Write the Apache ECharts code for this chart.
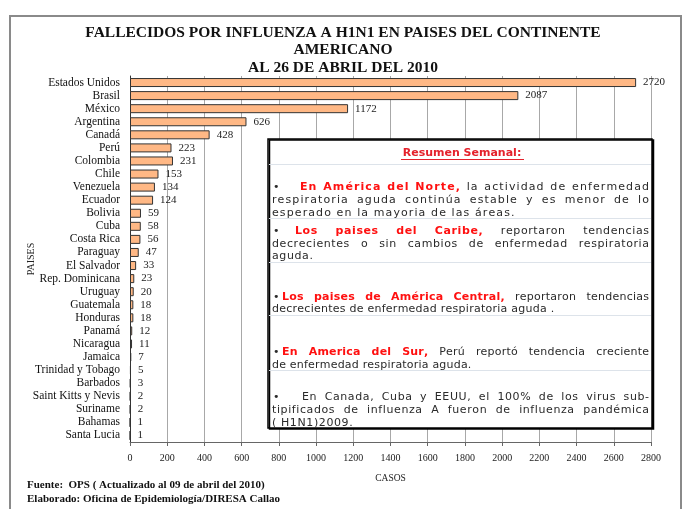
<!DOCTYPE html>
<html>
<head>
<meta charset="utf-8">
<script src="https://cdn.jsdelivr.net/npm/echarts@6/dist/echarts.min.js"></script>
<style>
  html, body { margin: 0; padding: 0; background: #fff; }
  #chart { width: 686px; height: 509px; }
</style>
</head>
<body>
<div id="chart"></div>
<script>
// datos del grafico
const paises = ['Estados Unidos', 'Brasil', 'México', 'Argentina', 'Canadá', 'Perú', 'Colombia', 'Chile',
  'Venezuela', 'Ecuador', 'Bolivia', 'Cuba', 'Costa Rica', 'Paraguay', 'El Salvador', 'Rep. Dominicana',
  'Uruguay', 'Guatemala', 'Honduras', 'Panamá', 'Nicaragua', 'Jamaica', 'Trinidad y Tobago', 'Barbados',
  'Saint Kitts y Nevis', 'Suriname', 'Bahamas', 'Santa Lucia'];
const fallecidos = [2720, 2087, 1172, 626, 428, 223, 231, 153, 134, 124, 59, 58, 56, 47, 33, 23,
  20, 18, 18, 12, 11, 7, 5, 3, 2, 2, 1, 1];

// texto del recuadro: [segmento, esRojo]; j = justificar, ind = sangria tras la viñeta, ls = espaciado
const resumen = [
  { y: 187, j: true, ind: 28, ls: 1.1, s: [['En América del Norte,', 1], ['la actividad de enfermedad', 0]] },
  { y: 200, j: true, ls: 1.1, s: [['respiratoria aguda continúa estable y es menor de lo', 0]] },
  { y: 213, j: false, ls: 1.1, s: [['esperado en la mayoria de las áreas.', 0]] },
  { y: 231, j: true, ind: 23, ls: 0.6, s: [['Los paises del Caribe,', 1], ['reportaron tendencias', 0]] },
  { y: 244, j: true, ls: 0.6, s: [['decrecientes  o sin cambios de enfermedad respiratoria', 0]] },
  { y: 256, j: false, ls: 0.6, s: [['aguda.', 0]] },
  { y: 297, j: true, ind: 10, ls: 0.25, s: [['Los paises de América Central,', 1], ['reportaron tendencias', 0]] },
  { y: 309, j: false, ls: 0.25, s: [['decrecientes de enfermedad respiratoria aguda .', 0]] },
  { y: 352, j: true, ind: 10, ls: 0.2, s: [['En America del Sur,', 1], ['Perú reportó tendencia creciente', 0]] },
  { y: 365, j: false, ls: 0.2, s: [['de enfermedad respiratoria aguda.', 0]] },
  { y: 397, j: true, ind: 30, ls: 0.6, s: [['En Canada, Cuba y EEUU, el 100% de los virus sub-', 0]] },
  { y: 410, j: true, ls: 0.6, s: [['tipificados de influenza A fueron de influenza pandémica', 0]] },
  { y: 423, j: false, ls: 0.6, s: [['( H1N1)2009.', 0]] }
];
const separadores = [164, 218, 262, 315, 370];

const serif = '"Liberation Serif", "DejaVu Serif", serif';
const sans = '"DejaVu Sans", sans-serif';
const box = { x: 268, y: 139, w: 384, h: 289 };

function textoResumen() {
  const ctx = document.createElement('canvas').getContext('2d');
  const size = 11;
  const font = (b) => (b ? 'bold ' : '') + size + 'px ' + sans;
  const x0 = box.x + 4, x1 = box.x + box.w - 3;
  const out = [];
  const put = (x, y, t, red) => out.push({
    type: 'text', z: 20,
    style: { x: x, y: y, text: t, font: font(red), fill: red ? '#ff1010' : '#2a2a2a', verticalAlign: 'middle' }
  });
  resumen.forEach(line => {
    let start = x0;
    if (line.ind != null) {
      put(x0 + 1, line.y, '•', 0);
      start = x0 + line.ind;
    }
    const words = [];
    line.s.forEach(([t, red]) => {
      ctx.font = font(red);
      t.split(/\s+/).filter(Boolean).forEach(w => {
        const chars = Array.from(w).map(c => ({ c: c, w: ctx.measureText(c).width }));
        words.push({ red: red, chars: chars, w: chars.reduce((a, b) => a + b.w, 0) });
      });
    });
    ctx.font = font(false);
    const sp = ctx.measureText(' ').width;
    // huecos entre letras dentro de las palabras
    const nInner = words.reduce((a, b) => a + b.chars.length - 1, 0);
    const w0 = words.reduce((a, b) => a + b.w, 0);
    const nGaps = words.length - 1;
    const avail = x1 - start;
    let ls = line.ls, gap = sp + 2 * ls;
    if (line.j && nGaps > 0) {
      ls = Math.min(line.ls, Math.max(0, (avail - w0 - nGaps * sp * 0.8) / nInner));
      gap = (avail - w0 - ls * nInner) / nGaps;
    }
    let x = start;
    words.forEach(wd => {
      wd.chars.forEach(ch => {
        put(x, line.y, ch.c, wd.red);
        x += ch.w + ls;
      });
      x += gap - ls;
    });
  });
  return out;
}

const chart = echarts.init(document.getElementById('chart'));

const graphics = [
  { type: 'rect', z: 0, shape: { x: 10, y: 16, width: 671, height: 510 },
    style: { fill: 'none', stroke: '#8a8a8a', lineWidth: 2 } },
  { type: 'rect', z: 15,
    shape: { x: box.x, y: box.y, width: box.w, height: box.h },
    style: { fill: '#fff', stroke: '#000', lineWidth: 1.5, shadowColor: '#000', shadowOffsetX: 1.5, shadowOffsetY: 1, shadowBlur: 0 } },
  { type: 'text', z: 20, style: { x: 462, y: 153, text: 'Resumen Semanal:', align: 'center', verticalAlign: 'middle',
      font: 'bold 11px ' + sans, fill: '#e4222c' } },
  { type: 'line', z: 20, shape: { x1: 401, y1: 159.5, x2: 524, y2: 159.5 }, style: { stroke: '#e4222c', lineWidth: 1 } },
  { type: 'text', left: 27, top: 478, z: 20,
    style: { text: 'Fuente:  OPS ( Actualizado al 09 de abril del 2010)\nElaborado: Oficina de Epidemiología/DIRESA Callao',
      font: 'bold 11px ' + serif, fill: '#111', lineHeight: 14 } }
];
separadores.forEach(y => graphics.push({ type: 'line', z: 16,
  shape: { x1: box.x + 1, y1: y + 0.5, x2: box.x + box.w - 1, y2: y + 0.5 }, style: { stroke: '#dde3ea', lineWidth: 1 } }));

const option = {
  backgroundColor: '#fff',
  animation: false,
  title: {
    text: 'FALLECIDOS POR INFLUENZA A H1N1 EN PAISES DEL CONTINENTE\nAMERICANO\nAL 26 DE ABRIL DEL 2010',
    left: 'center',
    top: 19,
    textStyle: { fontFamily: serif, fontWeight: 'bold', fontSize: 15.5, lineHeight: 17.5, color: '#111' }
  },
  grid: { left: 130, right: 35, top: 76, bottom: 67 },
  xAxis: {
    type: 'value',
    min: 0, max: 2800, interval: 200,
    name: 'CASOS', nameLocation: 'middle', nameGap: 31,
    nameTextStyle: { fontFamily: serif, fontSize: 9.5, color: '#222' },
    axisLine: { show: true, lineStyle: { color: '#666' } },
    axisTick: { show: true, length: 4, lineStyle: { color: '#666' } },
    axisLabel: { fontFamily: serif, fontSize: 10, color: '#222', margin: 11, formatter: v => String(v) },
    splitLine: { show: true, lineStyle: { color: '#a8a8a8', width: 1 } }
  },
  yAxis: {
    type: 'category',
    inverse: true,
    data: paises,
    name: 'PAISES', nameLocation: 'middle', nameGap: 94, nameRotate: 90,
    nameMoveOverlap: false,
    nameTextStyle: { fontFamily: serif, fontSize: 10, color: '#222' },
    axisLine: { show: true, lineStyle: { color: '#333' } },
    axisTick: { show: false },
    axisLabel: { fontFamily: serif, fontSize: 11.5, color: '#111', margin: 10, interval: 0 }
  },
  series: [{
    type: 'bar',
    data: fallecidos,
    barWidth: 9,
    itemStyle: { color: '#ffb885', borderColor: '#333', borderWidth: 1 },
    label: { show: true, position: 'right', distance: 7, fontFamily: serif, fontSize: 11, color: '#222' }
  }],
  graphic: graphics.concat(textoResumen())
};
chart.setOption(option);
</script>
</body>
</html>
